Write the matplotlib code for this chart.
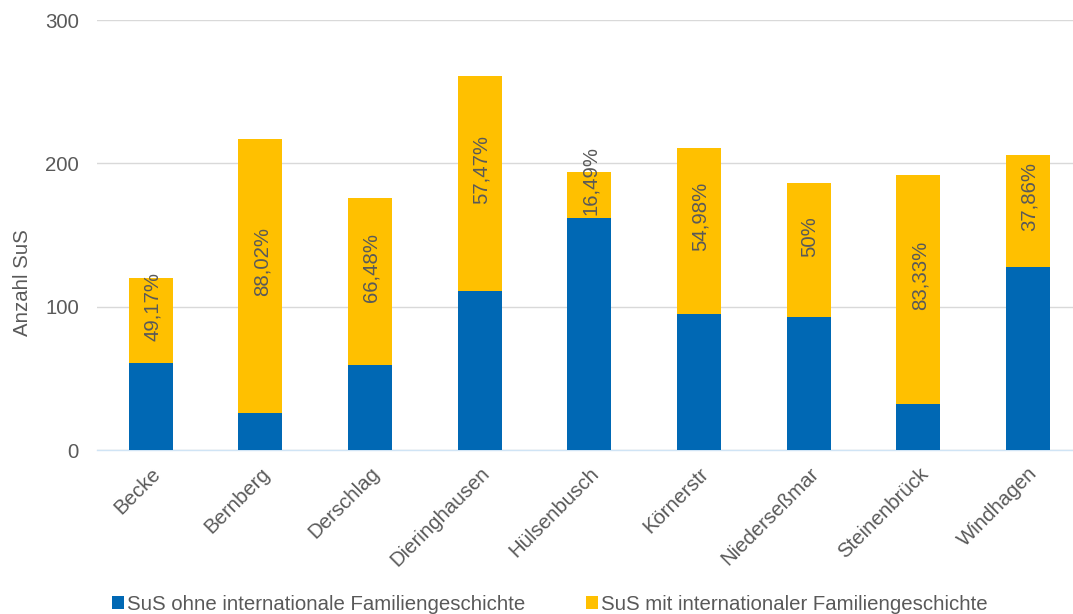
import matplotlib.pyplot as plt

plt.rcParams['font.family'] = ['Liberation Sans', 'DejaVu Sans']

schulen = ["Becke", "Bernberg", "Derschlag", "Dieringhausen", "Hülsenbusch",
           "Körnerstr", "Niederseßmar", "Steinenbrück", "Windhagen"]
ohne = [61, 26, 59, 111, 162, 95, 93, 32, 128]
mit = [59, 191, 117, 150, 32, 116, 93, 160, 78]
anteil = ["49,17%", "88,02%", "66,48%", "57,47%", "16,49%",
          "54,98%", "50%", "83,33%", "37,86%"]

blau = "#0068b4"
gelb = "#ffc000"
grau = "#595959"
fs = 14.7

fig = plt.figure(figsize=(10.73, 6.14), dpi=100)
ax = fig.add_axes([97 / 1073, 164 / 614, 976 / 1073, 430 / 614])

x = list(range(len(schulen)))
b1 = ax.bar(x, ohne, width=0.4, color=blau, label="SuS ohne internationale Familiengeschichte", zorder=3)
b2 = ax.bar(x, mit, width=0.4, bottom=ohne, color=gelb, label="SuS mit internationaler Familiengeschichte", zorder=3)

for i in x:
    ax.annotate(anteil[i], (i, ohne[i] + mit[i] / 2), xytext=(1, 10), textcoords="offset points",
                rotation=90, ha="center", va="center", fontsize=fs, color=grau, zorder=4)

ax.set_xlim(-0.49, 8.41)
ax.set_ylim(0, 300)
ax.set_yticks([0, 100, 200, 300])
ax.grid(axis="y", color="#d9d9d9", lw=1, zorder=0)
for s in ["top", "right", "left"]:
    ax.spines[s].set_visible(False)
ax.spines["bottom"].set_color("#d0e4f5")
ax.spines["bottom"].set_linewidth(1)
ax.tick_params(axis="both", length=0, labelsize=fs, labelcolor=grau)
ax.tick_params(axis="y", pad=13)
ax.set_xticks(x)
ax.set_xticklabels(schulen, rotation=45, ha="right", rotation_mode="anchor")
ax.tick_params(axis="x", pad=10)

ax.set_ylabel("Anzahl SuS", fontsize=fs, color=grau)
ax.yaxis.set_label_coords(-0.067, 0.39)

fig.legend(handles=[b1, b2], loc="lower center", bbox_to_anchor=(0.5126, -0.03), ncol=2,
           frameon=False, fontsize=fs, labelcolor=grau, handlelength=0.6, handleheight=0.6,
           handletextpad=0.15, columnspacing=2.95)

fig.savefig("out.png", dpi=100)
